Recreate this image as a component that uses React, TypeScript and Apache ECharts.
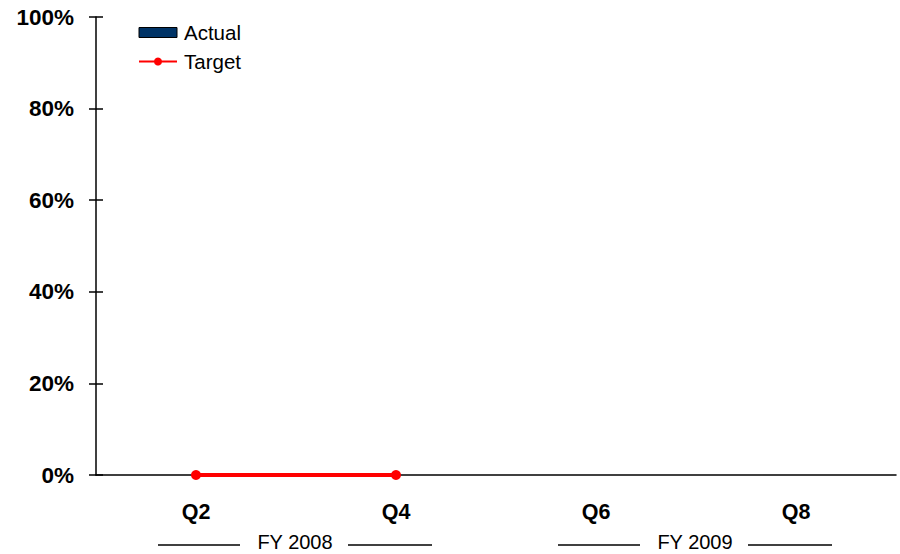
import React, { useEffect, useRef } from "react";
import * as echarts from "echarts";

const categories = ["Q2", "Q4", "Q6", "Q8"];
const actualValues = [0, 0, 0, 0];
const targetValues: (number | null)[] = [0, 0, null, null];
const yTicks = [0, 20, 40, 60, 80, 100];
const fiscalGroups = [
  { label: "FY 2008", from: "Q2", to: "Q4" },
  { label: "FY 2009", from: "Q6", to: "Q8" },
];

const FONT = "Liberation Sans, Arial, Helvetica, sans-serif";

export default function App() {
  const ref = useRef<HTMLDivElement>(null);
  useEffect(() => {
    document.body.style.margin = "0";
    if (!ref.current) return;
    const chart = echarts.init(ref.current, undefined, { renderer: "svg" });
    const yMin = yTicks[0];
    const yMax = yTicks[yTicks.length - 1];
    const yInterval = yTicks[1] - yTicks[0];
    chart.setOption({
      animation: false,
      grid: { left: 96, right: 4, top: 17, bottom: 79, containLabel: false },
      legend: {
        left: 133,
        top: 17,
        orient: "vertical",
        itemWidth: 38,
        itemHeight: 10,
        itemGap: 8,
        textStyle: { fontFamily: FONT, fontSize: 20.5, color: "#000", padding: [0, 0, 0, 2] },
        data: [
          { name: "Actual", icon: "rect", itemStyle: { color: "#003366", borderColor: "#000", borderWidth: 1 } },
          { name: "Target" },
        ],
      },
      xAxis: {
        type: "category",
        data: categories,
        boundaryGap: true,
        axisLine: { show: true, lineStyle: { color: "#000", width: 1.5 } },
        axisTick: { show: false },
        axisLabel: {
          margin: 26,
          fontFamily: FONT,
          fontSize: 21.5,
          fontWeight: "bold",
          color: "#000",
        },
        splitLine: { show: false },
      },
      yAxis: [
        {
          type: "value",
          min: yMin,
          max: yMax,
          interval: yInterval,
          axisLine: { show: true, lineStyle: { color: "#000", width: 1.5 } },
          axisTick: { show: true, length: 7, lineStyle: { color: "#000", width: 1.5 } },
          axisLabel: {
            margin: 22,
            formatter: "{value}%",
            fontFamily: FONT,
            fontSize: 22.5,
            fontWeight: "bold",
            color: "#000",
          },
          splitLine: { show: false },
        },
        {
          type: "value",
          position: "left",
          min: yMin,
          max: yMax,
          interval: yInterval,
          axisLine: { show: false },
          axisTick: { show: true, inside: true, length: 7, lineStyle: { color: "#000", width: 1.5 } },
          axisLabel: { show: false },
          splitLine: { show: false },
        },
      ],
      series: [
        {
          name: "Actual",
          type: "bar",
          data: actualValues,
          barWidth: "50%",
          itemStyle: { color: "#003366", borderColor: "#000", borderWidth: 0 },
        },
        {
          name: "Target",
          type: "line",
          data: targetValues,
          symbol: "circle",
          symbolSize: 10,
          lineStyle: { color: "#ff0000", width: 4 },
          itemStyle: { color: "#ff0000" },
          connectNulls: false,
          z: 5,
        },
      ],
    });

    const graphics: any[] = [];
    const yLine = 545;
    fiscalGroups.forEach((g) => {
      const a = chart.convertToPixel({ xAxisIndex: 0 }, g.from) as number;
      const b = chart.convertToPixel({ xAxisIndex: 0 }, g.to) as number;
      const c = (a + b) / 2;
      graphics.push(
        {
          type: "line",
          shape: { x1: c - 138, y1: yLine, x2: c - 56, y2: yLine },
          style: { stroke: "#000", lineWidth: 1.5 },
        },
        {
          type: "line",
          shape: { x1: c + 52, y1: yLine, x2: c + 136, y2: yLine },
          style: { stroke: "#000", lineWidth: 1.5 },
        },
        {
          type: "text",
          x: c - 1,
          y: 542,
          style: {
            text: g.label,
            fontFamily: FONT,
            fontSize: 20,
            fill: "#000",
            align: "center",
            verticalAlign: "middle",
          },
        }
      );
    });
    chart.setOption({ graphic: graphics });

    return () => chart.dispose();
  }, []);
  return <div ref={ref} style={{ width: 900, height: 554 }} />;
}
